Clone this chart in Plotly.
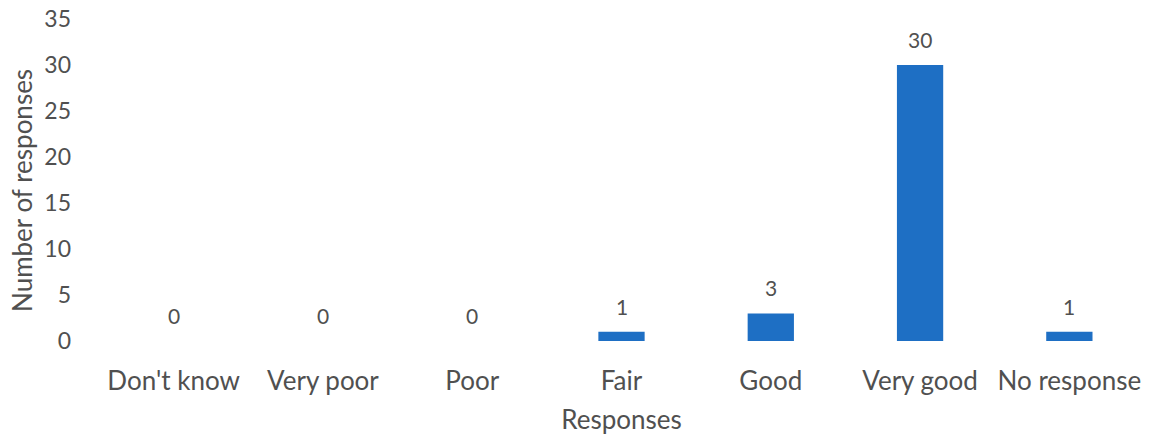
import plotly.graph_objects as go

categories = ["Don't know", "Very poor", "Poor", "Fair", "Good", "Very good", "No response"]
counts = [0, 0, 0, 1, 3, 30, 1]
y_ticks = [0, 5, 10, 15, 20, 25, 30, 35]

FONT = "Lato, 'Open Sans', sans-serif"
TEXT = "#505050"
BAR = "#1e6fc4"

fig = go.Figure(
    go.Bar(
        x=categories,
        y=counts,
        marker=dict(color=BAR, line=dict(width=0)),
        width=0.31,
        hoverinfo="x+y",
    )
)

# value labels above each bar
for cat, val in zip(categories, counts):
    fig.add_annotation(
        x=cat, y=val, text=str(val), showarrow=False,
        yanchor="bottom", yshift=11,
        font=dict(family=FONT, size=21, color=TEXT),
    )

# vertical axis title, placed as an annotation left of the tick labels
fig.add_annotation(
    xref="paper", yref="paper", x=-0.0737, y=0.469,
    text="Number of responses", textangle=-90, showarrow=False,
    xanchor="center", yanchor="middle",
    font=dict(family=FONT, size=26, color=TEXT),
)

fig.update_layout(
    width=1156, height=435,
    margin=dict(l=99, r=12, t=19, b=94, autoexpand=False),
    plot_bgcolor="white", paper_bgcolor="white",
    showlegend=False,
    font=dict(family=FONT, color=TEXT),
)
fig.update_xaxes(
    showline=False, showgrid=False, zeroline=False, automargin=False,
    ticks="", ticklabelstandoff=22, tickangle=0,
    tickfont=dict(family=FONT, size=26, color=TEXT),
    title=dict(text="Responses", font=dict(family=FONT, size=26, color=TEXT), standoff=19),
)
fig.update_yaxes(
    range=[0, 35], tickvals=y_ticks,
    showline=False, showgrid=False, zeroline=False, automargin=False,
    ticks="", ticklabelstandoff=27,
    tickfont=dict(family=FONT, size=23, color=TEXT),
)

fig.write_html("out.html")
